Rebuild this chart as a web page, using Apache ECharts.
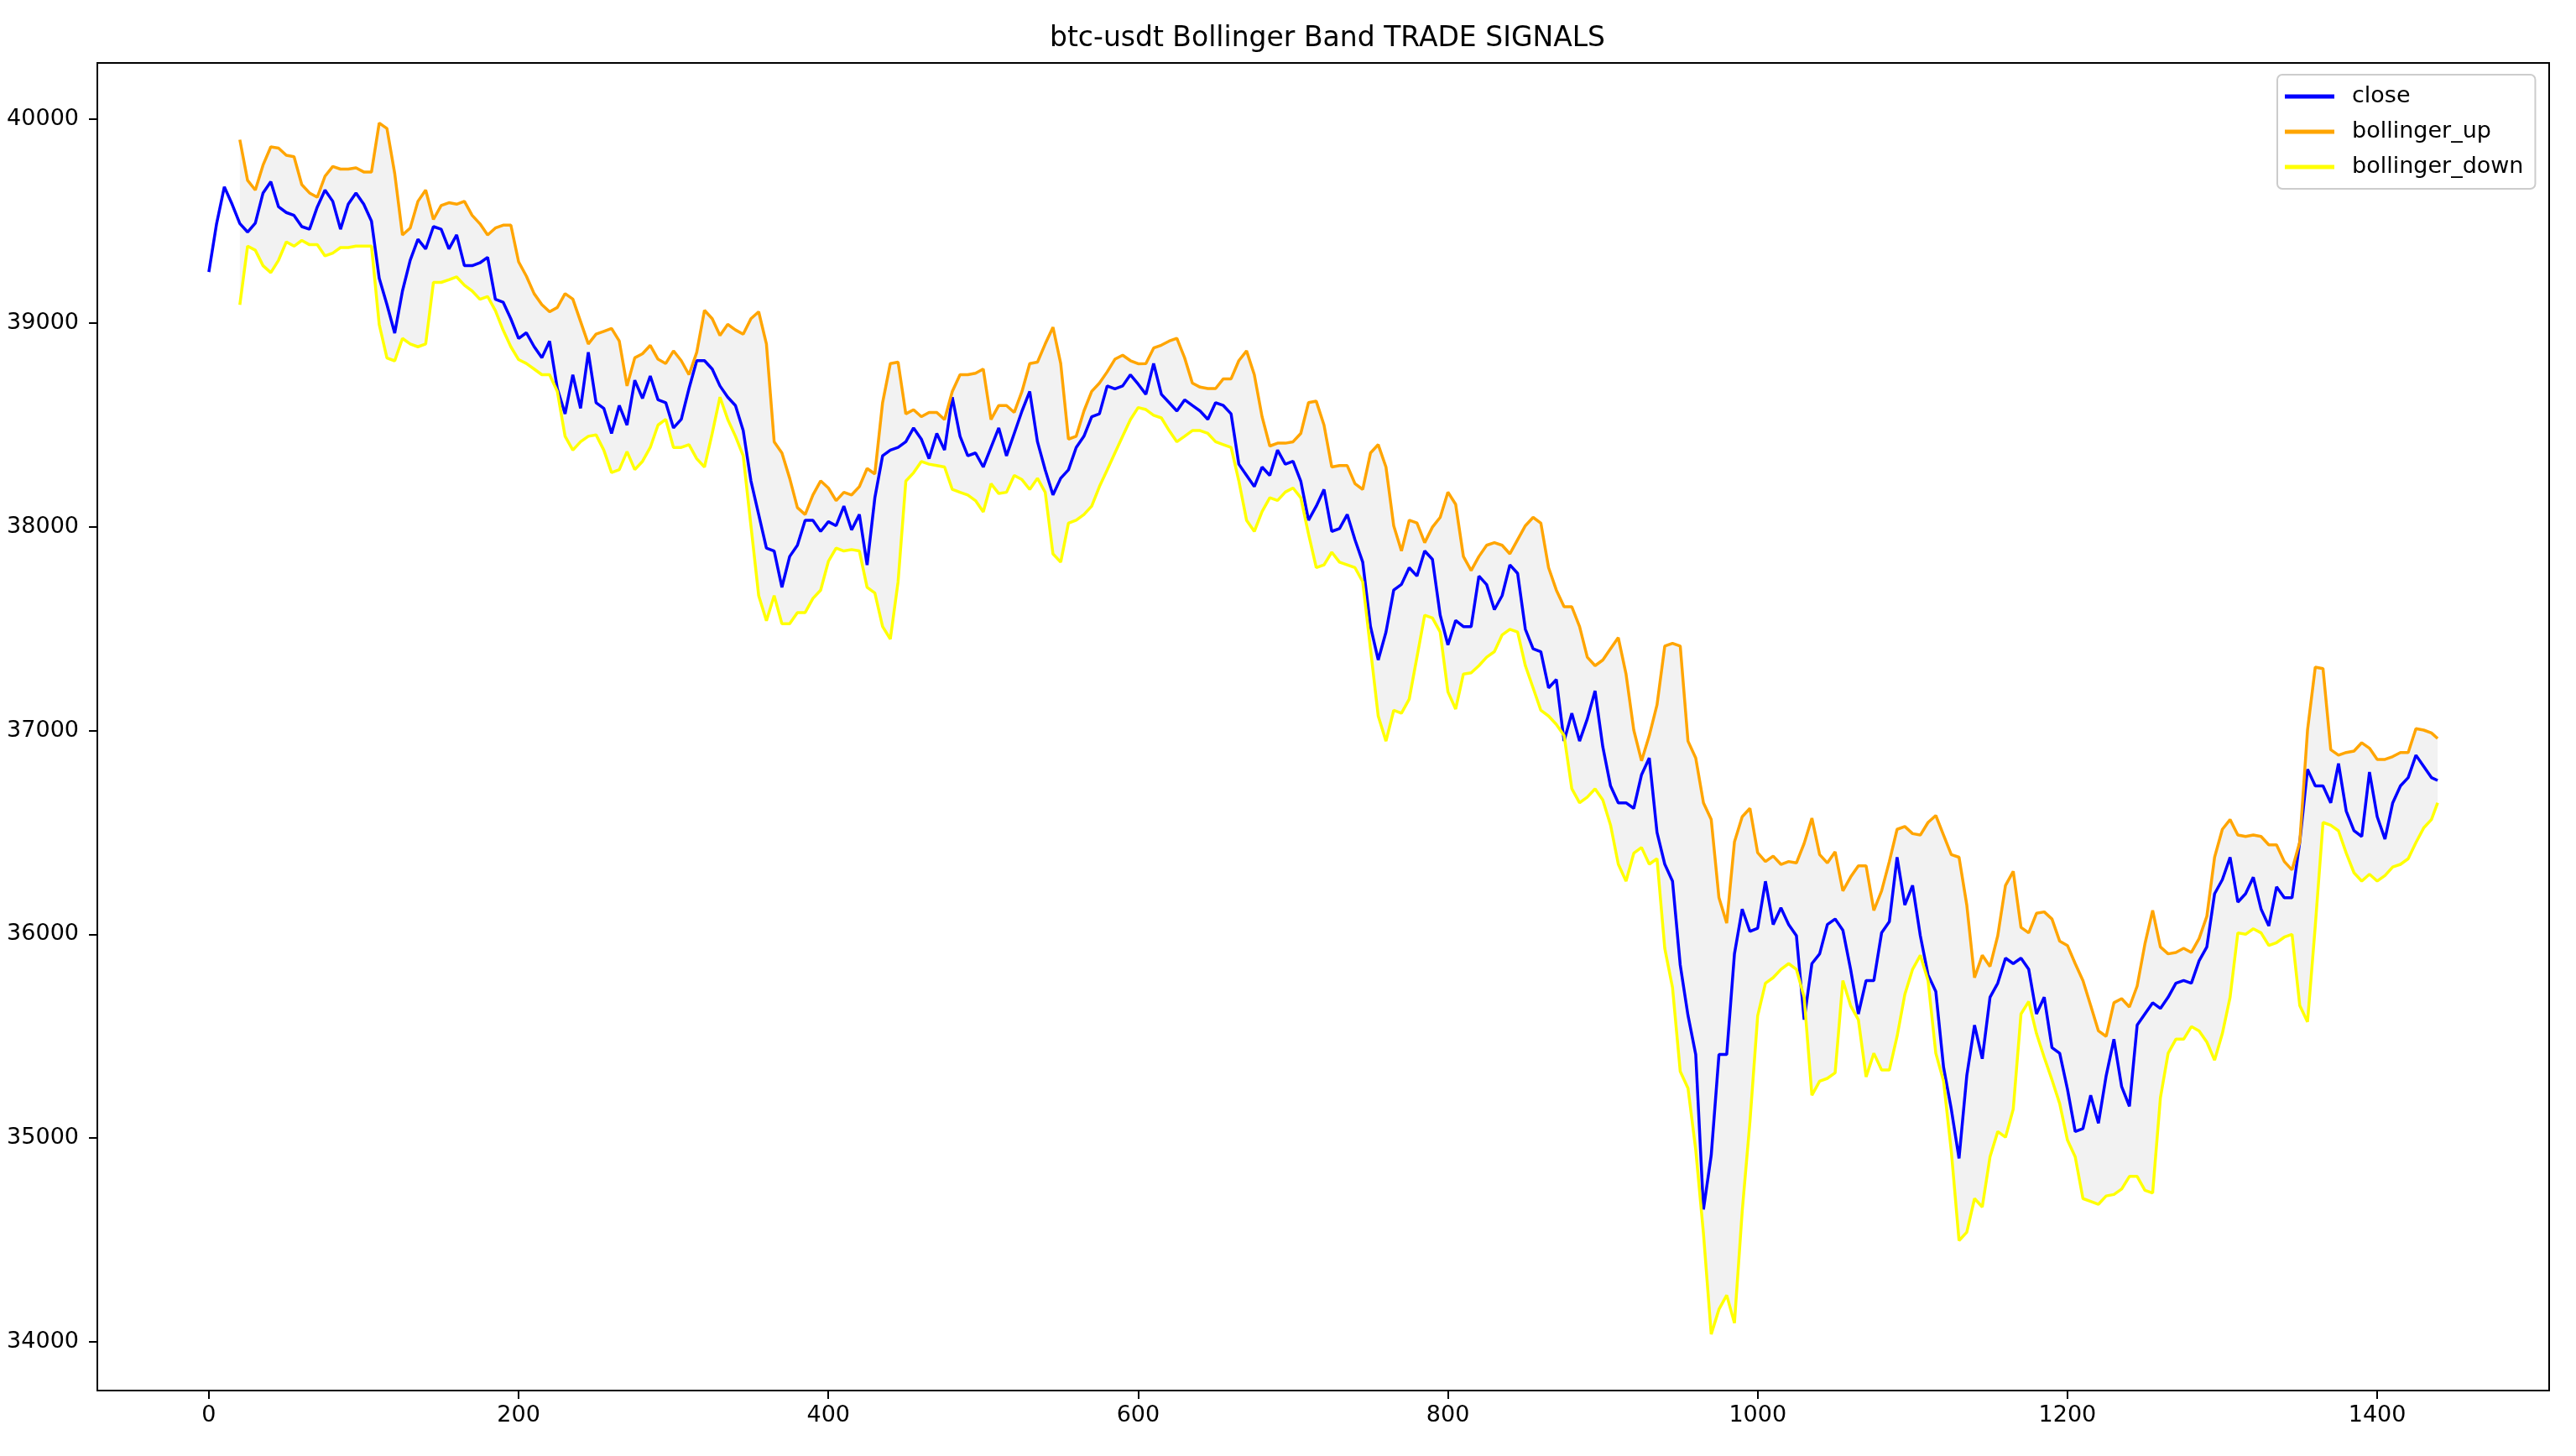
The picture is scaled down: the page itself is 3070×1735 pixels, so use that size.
<!DOCTYPE html>
<html>
<head>
<meta charset="utf-8">
<script src="https://cdn.jsdelivr.net/npm/echarts@6/dist/echarts.min.js"></script>
<style>
  html, body { margin: 0; padding: 0; background: #fff; }
  #main { width: 3070px; height: 1735px; }
</style>
</head>
<body>
<div id="main"></div>
<script>
// close price, one value every 5 steps (0..1435) and the last step 1439
var closeVals = [
  39250, 39487, 39668, 39583, 39488, 39446, 39490, 39638, 39693, 39570,
  39542, 39528, 39473, 39460, 39569, 39652, 39597, 39460, 39583, 39638,
  39583, 39500, 39220, 39090, 38950, 39157, 39308, 39411, 39363, 39473,
  39460, 39363, 39432, 39281, 39281, 39295, 39322, 39116, 39102, 39020,
  38924,
  38952, 38884, 38829, 38911, 38678, 38554, 38746, 38581, 38856, 38609,
  38581, 38458, 38595, 38499, 38719, 38630, 38740, 38623, 38609, 38485,
  38527, 38678, 38815, 38815, 38774, 38691, 38636, 38595, 38472, 38225,
  38060, 37895, 37881, 37703, 37854, 37909, 38032, 38032, 37977, 38025,
  38005, 38101, 37984, 38060, 37812, 38142, 38348, 38376, 38389, 38417,
  38485, 38430, 38334, 38458, 38376, 38636, 38444, 38348, 38362, 38293,
  38389, 38485, 38348, 38458, 38568, 38664, 38417, 38279, 38156, 38238,
  38279, 38389, 38444, 38540, 38554, 38691, 38677, 38691, 38746, 38700,
  38650, 38801, 38650, 38609, 38568, 38623, 38595, 38568, 38527, 38609,
  38595, 38554, 38307, 38252, 38197, 38293, 38252, 38376, 38307, 38321,
  38224, 38032, 38101, 38183, 37977, 37991, 38060, 37936, 37826, 37511,
  37346, 37483, 37689, 37717, 37799, 37758, 37881, 37840, 37566, 37420,
  37540, 37510, 37510, 37758, 37716, 37593, 37662, 37813, 37771, 37497,
  37401, 37387, 37209, 37250, 36948, 37085, 36948, 37057, 37195, 36920,
  36728, 36645, 36645, 36618, 36783, 36865, 36500, 36344, 36261, 35849,
  35602, 35410, 34650, 34916, 35410, 35410, 35904, 36124, 36014, 36030,
  36260, 36048, 36130, 36048, 35993, 35581, 35856, 35904, 36048, 36075,
  36020, 35828, 35609, 35773, 35773, 36007, 36062, 36378, 36144, 36240,
  35993, 35801, 35719, 35348, 35142, 34900, 35306, 35554, 35389, 35691,
  35760, 35883, 35856, 35883, 35828, 35609, 35691, 35444, 35416, 35240,
  35032, 35046, 35210, 35073, 35306, 35485, 35252, 35156, 35554, 35609,
  35664, 35636, 35691, 35760, 35773, 35760, 35870, 35938, 36199, 36268,
  36378, 36158, 36199, 36280,
  36124, 36041, 36233, 36179, 36179, 36453, 36810, 36728, 36728, 36645,
  36838, 36604, 36508, 36480, 36796, 36577, 36467, 36645, 36728, 36769,
  36879, 36824, 36769,
  36755
];

// upper band, every 5 steps from 20 (rolling window) and the last step 1439
var upVals = [
  39899, 39700, 39652, 39775, 39864, 39858, 39823, 39816, 39679, 39638,
  39617, 39720, 39768, 39755, 39755, 39761, 39741, 39741, 39981, 39954,
  39734, 39432, 39466, 39597, 39652, 39508, 39576, 39590, 39583, 39597,
  39528, 39487, 39432, 39466, 39480, 39480, 39300,
  39230, 39144, 39090, 39055, 39076, 39144, 39117, 39007, 38897, 38945,
  38959, 38973, 38911, 38691, 38829, 38849, 38890, 38822, 38801, 38863,
  38815, 38746, 38856, 39062, 39021, 38939, 38993, 38966, 38945, 39021,
  39055, 38897, 38417, 38362, 38238, 38094, 38060, 38156, 38225, 38190,
  38128, 38169, 38156, 38197, 38286, 38259, 38609, 38801, 38808, 38554,
  38574, 38540, 38561, 38561, 38526, 38664, 38746, 38746, 38753, 38774,
  38526, 38595, 38595, 38561, 38664, 38801, 38808, 38897, 38979, 38801,
  38430, 38444, 38568, 38664, 38705, 38760, 38822, 38842, 38815, 38800,
  38801, 38877, 38891, 38911, 38925, 38829, 38705, 38685, 38678, 38678,
  38726, 38726, 38815, 38863, 38746, 38540, 38396, 38410, 38410, 38417,
  38458, 38609, 38616, 38499, 38293, 38300, 38300, 38211, 38183, 38362,
  38403, 38293, 38005, 37881, 38032, 38019, 37922, 37998, 38046, 38170,
  38110, 37854, 37785, 37854, 37909, 37922, 37909, 37867, 37936, 38005,
  38046, 38018, 37799, 37689, 37607, 37607, 37510, 37360, 37318, 37346,
  37401, 37456, 37277, 37002, 36851, 36975, 37126, 37414, 37428, 37414,
  36948, 36865, 36645, 36563, 36179, 36055, 36453, 36577, 36618, 36400,
  36357, 36384, 36343, 36357, 36350, 36446, 36570, 36391, 36350, 36405,
  36213, 36281, 36336, 36336, 36117, 36213, 36357, 36515, 36529, 36494,
  36487, 36549, 36583, 36487, 36391, 36378, 36144, 35787, 35897, 35842,
  35993, 36240, 36309, 36034, 36007, 36103, 36110, 36075, 35966, 35945,
  35856, 35773, 35650, 35526, 35499, 35664, 35684, 35643, 35746, 35952,
  36117, 35938, 35904, 35911, 35931, 35911, 35979, 36089, 36378, 36515,
  36563, 36487, 36480, 36487,
  36480, 36439, 36439, 36357, 36316, 36453, 37002, 37311, 37304, 36906,
  36879, 36892, 36899, 36940, 36913, 36858, 36858, 36872, 36892, 36892,
  37009, 37002, 36988,
  36961
];

// lower band, same steps as the upper band
var downVals = [
  39089, 39377, 39357, 39281, 39247, 39308, 39398, 39377, 39405, 39384,
  39384, 39329, 39343, 39370, 39370, 39377, 39377, 39377, 38993, 38828,
  38814, 38924, 38897, 38883, 38897, 39199, 39199, 39212, 39226, 39185,
  39157, 39116, 39130, 39061, 38965, 38883, 38820,
  38801, 38774, 38746, 38746, 38664, 38444, 38376, 38417, 38444, 38451,
  38376, 38266, 38280, 38369, 38280, 38321, 38389, 38499, 38527, 38389,
  38389, 38403, 38334, 38293, 38458, 38636, 38527, 38444, 38348, 38005,
  37662, 37538, 37662, 37524, 37524, 37579, 37579, 37648, 37689, 37830,
  37895, 37881, 37888, 37881, 37703, 37675, 37510, 37449, 37730, 38224,
  38265, 38320, 38307, 38300, 38293, 38183, 38169, 38156, 38128, 38073,
  38211, 38163, 38169, 38252, 38231, 38183, 38238, 38169, 37867, 37826,
  38018, 38032, 38060, 38101, 38197, 38279, 38362, 38444, 38526, 38585,
  38575, 38547, 38534, 38472, 38417, 38444, 38472, 38472, 38458, 38417,
  38403, 38389, 38225, 38032, 37977, 38074, 38142, 38129, 38170, 38190,
  38142, 37964, 37799, 37813, 37875, 37826, 37813, 37799, 37730, 37401,
  37071, 36948, 37099, 37085, 37154, 37360, 37566, 37552, 37483, 37190,
  37105, 37277, 37283, 37318, 37360, 37387, 37469, 37497, 37483, 37318,
  37209, 37099, 37071, 37030, 36975, 36714, 36645, 36673, 36714, 36659,
  36536, 36344, 36261, 36398, 36426, 36344, 36371, 35931, 35739, 35327,
  35245, 34943, 34531, 34037, 34160, 34229, 34092, 34641, 35080, 35600,
  35760, 35787, 35828, 35856, 35828, 35691, 35210, 35279, 35293, 35320,
  35773, 35650, 35581, 35300, 35416, 35334, 35334, 35499, 35705, 35828,
  35897, 35773, 35416, 35279, 34936, 34497, 34538, 34703, 34662, 34908,
  35032, 35004, 35142, 35609, 35670, 35513, 35396, 35286, 35169, 34990,
  34908, 34703, 34689, 34675, 34716, 34723, 34750, 34812, 34812, 34744,
  34730, 35197, 35416, 35485, 35485, 35547, 35526, 35471, 35382, 35513,
  35691, 36007, 36000, 36027,
  36007, 35945, 35959, 35986, 36000, 35650, 35570, 36041, 36549, 36535,
  36508, 36398, 36302, 36261, 36295, 36261, 36288, 36330, 36343, 36371,
  36450, 36522, 36563,
  36645
];

var xTicks = [0, 200, 400, 600, 800, 1000, 1200, 1400];
var yTicks = [34000, 35000, 36000, 37000, 38000, 39000, 40000];

// x positions of the samples
var closeX = [];
for (var i = 0; i * 5 <= 1435; i++) closeX.push(i * 5);
closeX.push(1439);
var bandX = [];
for (var j = 20; j <= 1435; j += 5) bandX.push(j);
bandX.push(1439);

function pairs(xs, ys) {
  var out = [];
  for (var k = 0; k < ys.length; k++) out.push([xs[k], ys[k]]);
  return out;
}

// grey area between the two bands, one polygon through the axes
function renderBand(params, api) {
  if (params.dataIndex !== 0) return null;
  var pts = [];
  for (var k = 0; k < bandX.length; k++) pts.push(api.coord([bandX[k], upVals[k]]));
  for (var m = bandX.length - 1; m >= 0; m--) pts.push(api.coord([bandX[m], downVals[m]]));
  return {
    type: 'polygon',
    shape: {points: pts},
    style: {fill: '#f2f2f2', stroke: null}
  };
}

var font = 'DejaVu Sans';
var chart = echarts.init(document.getElementById('main'), null, {renderer: 'canvas'});

var option = {
  animation: false,
  backgroundColor: '#ffffff',
  title: {
    text: 'btc-usdt Bollinger Band TRADE SIGNALS',
    left: 1577,   // centre of the plot area, not of the page
    textAlign: 'center',
    top: 25,
    textStyle: {fontFamily: font, fontSize: 33, fontWeight: 'normal', color: '#000'}
  },
  legend: {
    data: ['close', 'bollinger_up', 'bollinger_down'],
    orient: 'vertical',
    left: 2714,
    top: 89,
    padding: [10, 14, 10, 9],
    itemGap: 10,
    itemWidth: 59,
    itemHeight: 5,
    icon: 'rect',
    backgroundColor: 'rgba(255,255,255,0.8)',
    borderColor: '#cccccc',
    borderWidth: 2,
    borderRadius: 6,
    textStyle: {fontFamily: font, fontSize: 27, color: '#000', lineHeight: 32, padding: [0, 0, 0, 16]}
  },
  grid: {
    left: 116, right: 32, top: 75, bottom: 78,
    show: true, borderColor: '#000', borderWidth: 2, backgroundColor: 'transparent'
  },
  xAxis: {
    type: 'value',
    min: -72,
    max: 1511,
    axisLine: {show: true, onZero: false, lineStyle: {color: '#000', width: 2}},
    axisTick: {show: true, length: 10, customValues: xTicks, lineStyle: {color: '#000', width: 2}},
    axisLabel: {
      customValues: xTicks, margin: 16, fontFamily: font, fontSize: 27, color: '#000',
      formatter: function (v) { return String(v); }
    },
    splitLine: {show: false}
  },
  yAxis: {
    type: 'value',
    min: 33761,
    max: 40276,
    axisLine: {show: true, onZero: false, lineStyle: {color: '#000', width: 2}},
    axisTick: {show: true, length: 10, customValues: yTicks, lineStyle: {color: '#000', width: 2}},
    axisLabel: {
      customValues: yTicks, margin: 22, fontFamily: font, fontSize: 27, color: '#000',
      formatter: function (v) { return String(v); }
    },
    splitLine: {show: false}
  },
  series: [
    {
      name: 'band', type: 'custom', silent: true, z: 1,
      renderItem: renderBand,
      data: [[bandX[0], downVals[0]]]
    },
    {
      name: 'close', type: 'line', data: pairs(closeX, closeVals), z: 3,
      showSymbol: false, color: '#0000ff', lineStyle: {width: 3.5, color: '#0000ff'}
    },
    {
      name: 'bollinger_up', type: 'line', data: pairs(bandX, upVals), z: 3,
      showSymbol: false, color: '#ffa500', lineStyle: {width: 3.5, color: '#ffa500'}
    },
    {
      name: 'bollinger_down', type: 'line', data: pairs(bandX, downVals), z: 3,
      showSymbol: false, color: '#ffff00', lineStyle: {width: 3.5, color: '#ffff00'}
    }
  ]
};
chart.setOption(option);
</script>
</body>
</html>
